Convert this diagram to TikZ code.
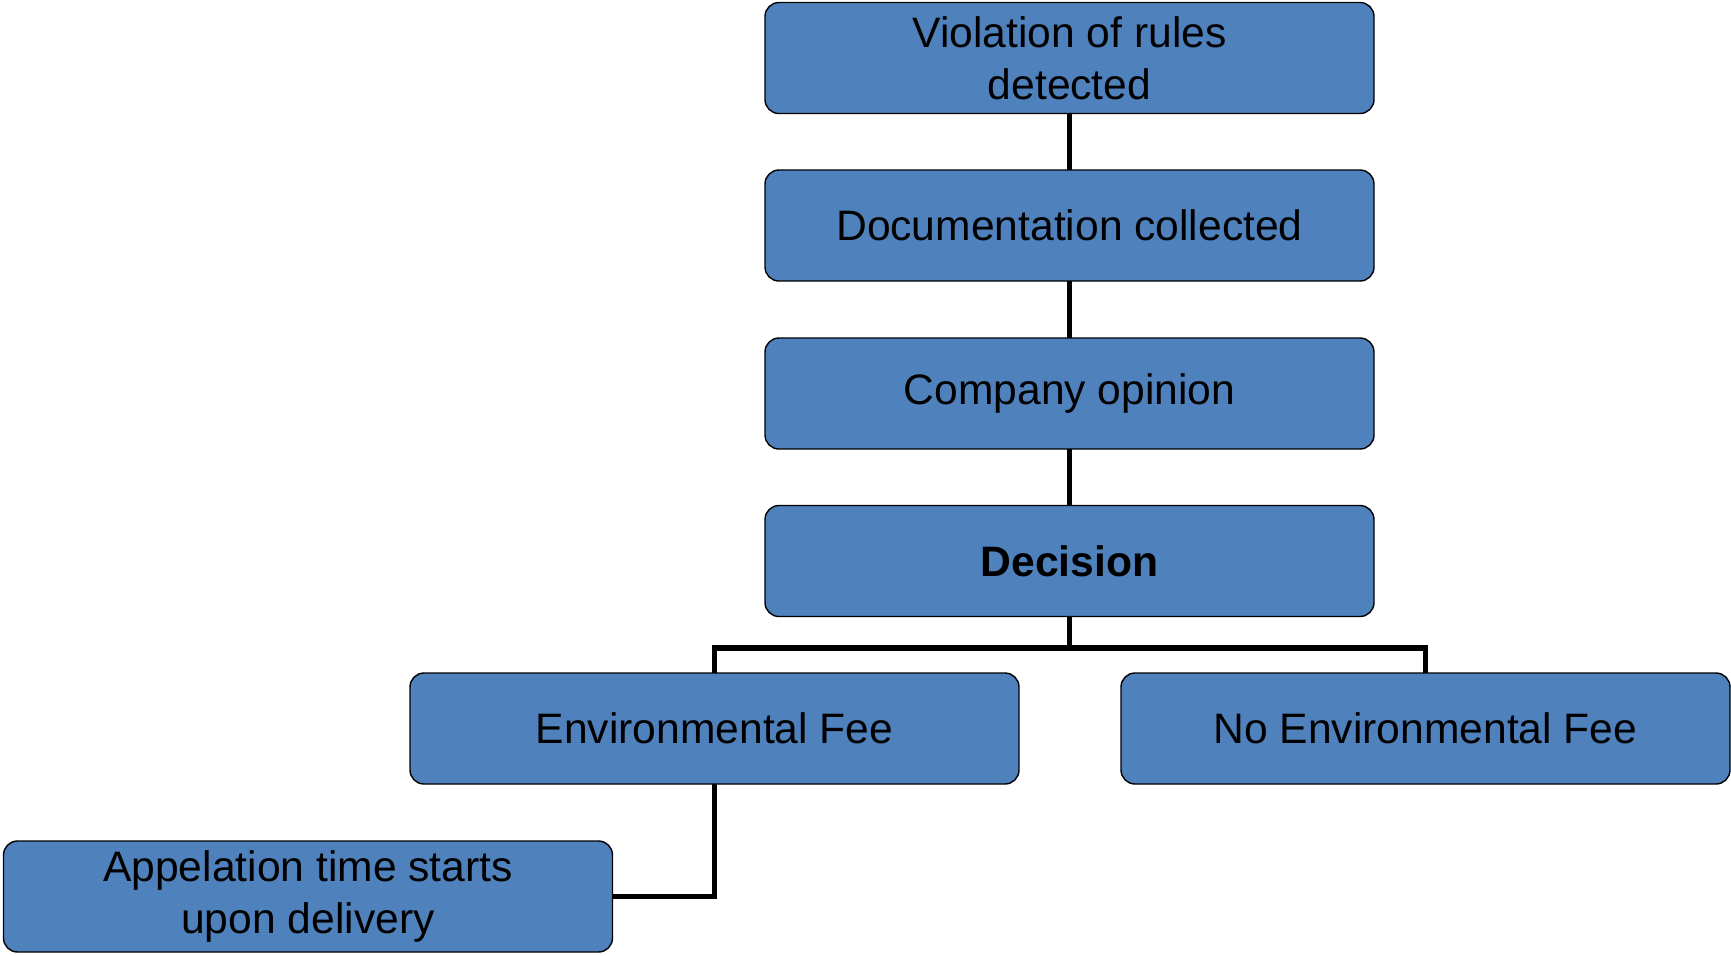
\documentclass[tikz,border=0pt]{standalone}
\usepackage{fontspec}
\setmainfont{Liberation Sans}
\usetikzlibrary{calc,positioning}
\definecolor{boxblue}{HTML}{4F81BD}
\tikzset{
    link/.style={
	draw=black,
	line width=2.8pt,
    },
    stagebox/.style={
	anchor=center,
	rectangle,
	rounded corners=7pt,
	draw=black,
	line width=0.7pt,
	fill=boxblue,
	text=black,
	align=center,
	minimum width=304.5pt,
	minimum height=55.5pt,
	inner sep=2pt,
	outer sep=0pt,
	font=\fontsize{21.3}{26}\selectfont
    },
}

\begin{document}
\begin{tikzpicture}[x=0.5pt,y=-0.5pt]
    \useasboundingbox (0,0) rectangle (1731,955);

    \node[stagebox] (VIOL) at (1069.5,58) {Violation of rules\\ detected};
    \node[stagebox] (DOC) at (1069.5,225.5) {Documentation collected};
    \node[stagebox] (OPIN) at (1069.5,393.5) {Company opinion};
    \node[stagebox] (DECI) at (1069.5,561) {\textbf{Decision}};

    \node[stagebox] (FEE) at (714.5,728.5) {Environmental Fee};
    \node[stagebox] (NOFEE) at (1425.5,728.5) {No Environmental Fee};
    \node[stagebox] (APPEL) at (308,896.5) {Appelation time starts\\ upon delivery};

    \coordinate (SPLIT) at (1069.5,648);

    \draw[link] (VIOL) -- (DOC);
    \draw[link] (DOC) -- (OPIN);
    \draw[link] (OPIN) -- (DECI);
    \draw[link] (DECI.south) -- (SPLIT);
    \draw[link] (FEE.north) |- (SPLIT) -| (NOFEE.north);
    \draw[link] (FEE.south) |- (APPEL.east);
\end{tikzpicture}
\end{document}
